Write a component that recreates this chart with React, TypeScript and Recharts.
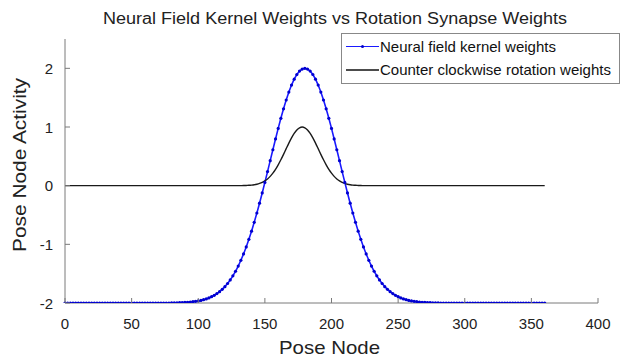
import React from 'react';
import { LineChart, Line, XAxis, YAxis, Customized } from 'recharts';

// pose nodes are sampled every 2 units from 0 to 360
const NODE_STEP = 2;

// blue: neural field kernel weights (x = 0, 2, ..., 360)
const KERNEL_WEIGHTS = [
    -2, -2, -2, -2, -2, -2, -2, -2, -2, -2,
    -2, -2, -2, -2, -2, -2, -2, -2, -2, -2,
    -2, -2, -2, -2, -2, -2, -2, -2, -2, -2,
    -2, -2, -2, -2, -2, -2, -2, -2, -2, -2,
    -1.998, -1.997, -1.996, -1.994, -1.992, -1.990, -1.987, -1.983, -1.978, -1.972,
    -1.965, -1.956, -1.944, -1.930, -1.914, -1.893, -1.869, -1.840, -1.807, -1.767,
    -1.721, -1.668, -1.607, -1.537, -1.459, -1.370, -1.272, -1.164, -1.045, -0.915,
    -0.775, -0.625, -0.466, -0.299, -0.124, 0.056, 0.240, 0.426, 0.612, 0.796,
    0.976, 1.148, 1.310, 1.460, 1.596, 1.715, 1.815, 1.895, 1.953, 1.988,
    2.000,
    1.988, 1.953, 1.895, 1.815, 1.715, 1.596, 1.460, 1.310, 1.148, 0.976,
    0.796, 0.612, 0.426, 0.240, 0.056, -0.124, -0.299, -0.466, -0.625, -0.775,
    -0.915, -1.045, -1.164, -1.272, -1.370, -1.459, -1.537, -1.607, -1.668, -1.721,
    -1.767, -1.807, -1.840, -1.869, -1.893, -1.914, -1.930, -1.944, -1.956, -1.965,
    -1.972, -1.978, -1.983, -1.987, -1.990, -1.992, -1.994, -1.996, -1.997, -1.998,
    -2, -2, -2, -2, -2, -2, -2, -2, -2, -2,
    -2, -2, -2, -2, -2, -2, -2, -2, -2, -2,
    -2, -2, -2, -2, -2, -2, -2, -2, -2, -2,
    -2, -2, -2, -2, -2, -2, -2, -2, -2, -2,
];

// black: counter clockwise rotation weights (x = 0, 2, ..., 360)
const ROTATION_WEIGHTS = [
    0, 0, 0, 0, 0, 0, 0, 0, 0, 0,
    0, 0, 0, 0, 0, 0, 0, 0, 0, 0,
    0, 0, 0, 0, 0, 0, 0, 0, 0, 0,
    0, 0, 0, 0, 0, 0, 0, 0, 0, 0,
    0, 0, 0, 0, 0, 0, 0, 0, 0, 0,
    0, 0, 0, 0, 0, 0, 0, 0, 0, 0,
    0, 0, 0, 0, 0, 0,
    0.001, 0.002, 0.004, 0.006, 0.010, 0.016, 0.025, 0.038, 0.056, 0.081,
    0.115, 0.158, 0.213, 0.278, 0.355, 0.441, 0.534, 0.631, 0.726, 0.815,
    0.891, 0.950, 0.987, 1.000,
    0.987, 0.950, 0.891, 0.815, 0.726, 0.631, 0.534, 0.441, 0.355, 0.278,
    0.213, 0.158, 0.115, 0.081, 0.056, 0.038, 0.025, 0.016, 0.010, 0.006,
    0.004, 0.002, 0.001,
    0, 0, 0, 0, 0, 0, 0, 0, 0, 0,
    0, 0, 0, 0, 0, 0, 0, 0, 0, 0,
    0, 0, 0, 0, 0, 0, 0, 0, 0, 0,
    0, 0, 0, 0, 0, 0, 0, 0, 0, 0,
    0, 0, 0, 0, 0, 0, 0, 0, 0, 0,
    0, 0, 0, 0, 0, 0, 0, 0, 0, 0,
    0, 0, 0, 0, 0, 0, 0, 0,
];

const X_TICKS = [0, 50, 100, 150, 200, 250, 300, 350, 400];
const Y_TICKS = [-2, -1, 0, 1, 2];

const SERIES_NAMES = ['Neural field kernel weights', 'Counter clockwise rotation weights'];
const TITLE = 'Neural Field Kernel Weights vs Rotation Synapse Weights';
const X_LABEL = 'Pose Node';
const Y_LABEL = 'Pose Node Activity';

const data = KERNEL_WEIGHTS.map((v, i) => ({
    node: i * NODE_STEP,
    kernel: v,
    rotation: ROTATION_WEIGHTS[i],
}));

const FONT = '"Liberation Sans", Arial, Helvetica, sans-serif';
const AXIS_GREY = '#7a7a7a';
const BLUE = '#1a1aff';

const XTick = (props: any) => {
    const { x, y, payload } = props;
    return (
        <g>
            <line x1={x} x2={x} y1={y} y2={y - 5} stroke={AXIS_GREY} />
            <text x={x} y={y + 26} textAnchor="middle" fontSize={15} fontFamily={FONT} fill="#222">
                {payload.value}
            </text>
        </g>
    );
};

const YTick = (props: any) => {
    const { x, y, payload } = props;
    return (
        <g>
            <line x1={x} x2={x + 5} y1={y} y2={y} stroke={AXIS_GREY} />
            <text x={x - 12} y={y + 5.5} textAnchor="end" fontSize={15} fontFamily={FONT} fill="#222">
                {payload.value}
            </text>
        </g>
    );
};

// title, axis labels and the boxed legend in the top right
const Labels = () => (
    <g fontFamily={FONT} fill="#222">
        <text x={335} y={23.5} textAnchor="middle" fontSize={16} textLength={464} lengthAdjust="spacingAndGlyphs">
            {TITLE}
        </text>
        <text x={329.5} y={354} textAnchor="middle" fontSize={19} textLength={101} lengthAdjust="spacingAndGlyphs">
            {X_LABEL}
        </text>
        <text
            x={26}
            y={165}
            textAnchor="middle"
            fontSize={19}
            textLength={174}
            lengthAdjust="spacingAndGlyphs"
            transform="rotate(-90 26 165)"
        >
            {Y_LABEL}
        </text>
        <g transform="translate(341 33)">
            <rect x={0.5} y={0.5} width={278} height={50} fill="#fff" stroke="#888" />
            <line x1={5} x2={38} y1={13.5} y2={13.5} stroke={BLUE} strokeWidth={1} />
            <circle cx={21.5} cy={13.5} r={1.5} fill="#0000cc" />
            <text x={39} y={18.5} fontSize={15} fill="#111">{SERIES_NAMES[0]}</text>
            <line x1={5} x2={38} y1={37} y2={37} stroke="#111" strokeWidth={1.3} />
            <text x={39} y={42} fontSize={15} fill="#111">{SERIES_NAMES[1]}</text>
        </g>
    </g>
);

export default function App() {
    return (
        <div style={{ position: 'absolute', left: 0, top: 0, background: '#fff' }}>
            <LineChart width={622} height={364} data={data} margin={{ top: 39, right: 24, bottom: 31, left: 25 }}>
                <XAxis
                    dataKey="node"
                    type="number"
                    domain={[0, 400]}
                    ticks={X_TICKS}
                    height={30}
                    tickSize={0}
                    tickMargin={0}
                    tickLine={false}
                    axisLine={{ stroke: AXIS_GREY }}
                    tick={XTick}
                    interval={0}
                />
                <YAxis
                    type="number"
                    domain={[-2, 2.5]}
                    ticks={Y_TICKS}
                    width={40}
                    tickSize={0}
                    tickMargin={0}
                    tickLine={false}
                    axisLine={{ stroke: AXIS_GREY }}
                    tick={YTick}
                    interval={0}
                    allowDataOverflow
                />
                <Line
                    dataKey="kernel"
                    name={SERIES_NAMES[0]}
                    stroke={BLUE}
                    strokeWidth={1.6}
                    dot={{ r: 1.6, fill: '#0000d0', stroke: 'none' }}
                    isAnimationActive={false}
                    type="linear"
                />
                <Line
                    dataKey="rotation"
                    name={SERIES_NAMES[1]}
                    stroke="#1a1a1a"
                    strokeWidth={1.4}
                    dot={false}
                    isAnimationActive={false}
                    type="monotone"
                />
                <Customized component={Labels} />
            </LineChart>
        </div>
    );
}
